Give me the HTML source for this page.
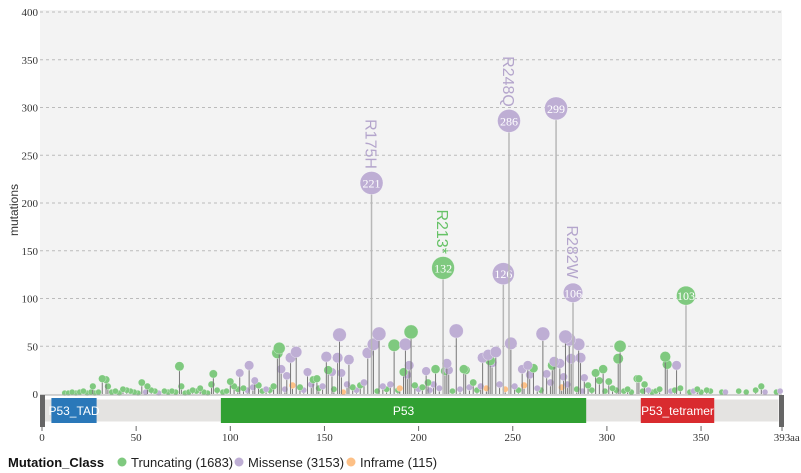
<!DOCTYPE html>
<html><head><meta charset="utf-8"><style>
body{margin:0;background:#fff;width:801px;height:473px;overflow:hidden;font-family:"Liberation Sans",sans-serif}
svg{display:block}
</style></head><body>
<svg id="chart" width="801" height="473">
<rect x="40" y="10" width="742" height="385" fill="#f3f3f3"/>
<g id="grid"></g>
<g id="yaxis"></g>
<text x="18" y="210" transform="rotate(-90 18 210)" text-anchor="middle" font-size="12" fill="#333">mutations</text>
<g id="marks"></g>
<line x1="40" y1="395" x2="782" y2="395" stroke="#aaa" stroke-width="1"/>
<rect x="44" y="399" width="735" height="23" fill="#e4e3e1" stroke="#fff"/>
<rect x="40" y="395" width="5" height="32" fill="#666"/>
<rect x="779" y="395" width="5" height="32" fill="#666"/>
<g id="domains"></g>
<g id="xaxis"></g>
<g>
<text x="8" y="467" font-size="13" font-weight="bold" fill="#111">Mutation_Class</text>
<g><circle cx="122" cy="462" r="4.5" fill="#7fc97f"/><text x="131" y="467" font-size="13" fill="#222">Truncating (1683)</text></g>
<g><circle cx="239" cy="462" r="4.5" fill="#beaed4"/><text x="248" y="467" font-size="13" fill="#222">Missense (3153)</text></g>
<g><circle cx="351" cy="462" r="4.5" fill="#fdc086"/><text x="360" y="467" font-size="13" fill="#222">Inframe (115)</text></g>
</g>
</svg>
<script>
const positions=[12,14,16,18,20,22,24,26,28,30,37,39,41,43,47,49,51,55,58,60,62,65,67,69,71,76,78,82,86,88,93,96,98,102,104,107,109,112,115,117,119,121,123,129,133,137,139,143,147,149,155,162,165,167,169,171,178,181,183,185,189,198,200,202,206,211,218,222,227,231,233,236,243,246,251,253,256,263,265,276,279,284,287,292,299,303,305,309,311,313,319,322,324,326,328,334,336,339,344,346,348,350,353,355,
175,248,273,213,245,282,342,
220,266,278,280,285,249,307,306,281,286,241,237,234,239,238,272,275,271,261,258,255,215,216,214,204,209,224,225,294,298,268,277,288,259,301,316,270,205,208,229,
158,179,196,187,193,176,173,126,125,135,132,151,157,163,110,105,91,127,130,141,152,154,159,195,192,194,113,100,146,144,160,190,
331,332,337,317,320,296,290,32,34,35,27,73,74,53,56,45,90,84,80,361,363,370,374,379,382,384,390,392];
const counts=[1,1,2,1,2,3,1,2,1,2,2,3,1,5,3,2,1,2,4,3,1,3,2,3,2,1,2,3,2,1,4,2,3,8,5,6,4,7,9,3,5,4,8,5,9,7,4,10,6,8,5,10,7,4,9,12,3,8,5,10,4,9,5,7,4,6,3,5,7,4,8,6,10,5,8,4,9,6,4,7,10,5,3,4,3,6,4,3,5,2,3,4,2,3,5,3,4,6,2,3,5,2,4,3,
221,286,299,132,126,106,103,
66,63,60,57,52,53,50,37,37,38,44,41,38,33,35,34,32,30,27,30,26,32,25,24,24,26,26,25,22,26,21,18,17,20,13,16,12,12,10,12,
62,63,65,51,52,52,43,48,43,44,38,39,38,36,30,22,21,26,19,23,25,23,22,30,23,20,14,13,16,15,2,6,
39,31,30,16,10,14,9,16,15,8,8,29,8,12,8,4,10,6,4,2,2,3,2,4,8,2,2,3];
const classes=[
"T","T","T","T","T","T","T","T","T","T","T","T","T","T","T","T","T","M","T","T","M","T","T","T","T","T","T","T","T","T","T","T","T","T","T","T","M","M","T","T","M","T","T","M","I","T","M","M","T","M","T","M","T","M","T","M","T","M","T","M","T","T","M","T","M","M","T","M","M","T","M","I","M","I","M","T","I","M","T","I","M","T","M","T","T","T","T","T","T","T","T","M","T","T","T","M","T","T","T","M","T","T","T","T",
"M","M","M","T","M","M","T",
"M","M","M","M","M","M","T","T","M","M","M","M","M","M","T","M","M","T","T","M","M","M","M","T","M","T","T","T","T","T","M","M","M","M","T","T","M","T","M","T",
"M","M","T","T","M","M","M","T","T","M","M","M","M","M","M","M","T","M","M","M","T","M","M","M","T","M","M","T","T","T","I","I",
"T","T","M","T","T","T","T","T","T","T","T","T","T","T","T","T","T","T","T","T","M","T","T","T","T","M","T","M"];
const labelNames=["R175H","R248Q","R213*","R282W"];
const labelPos=[175,248,213,282];
const labelCounts=[221,286,132,106];
const labelClasses=["M","M","T","M"];
const yTicks=[0,50,100,150,200,250,300,350,400];
const xTicks=[0,50,100,150,200,250,300,350,393];
const domainNames=["P53_TAD","P53","P53_tetramer"];
const domainStart=[5,95,318];
const domainEnd=[29,289,357];
const domainColors=["#2a78b9","#31a032","#d92b2f"];

const NS="http://www.w3.org/2000/svg";
const X=a=>42+a*1.883, Y=v=>394-v*0.955;
const col={T:"#7fc97f",M:"#beaed4",I:"#fdc086"};
const lab={T:"#66c266",M:"#b4a5cc",I:"#f0a860"};
function mk(t,at,p){const e=document.createElementNS(NS,t);for(const k in at)e.setAttribute(k,at[k]);(p||document.getElementById("marks")).appendChild(e);return e;}
const grid=document.getElementById("grid"),ya=document.getElementById("yaxis");
yTicks.forEach(v=>{
 if(v>0){const g=mk("line",{x1:40,x2:782,y1:Y(v),y2:Y(v),stroke:"#bbb","stroke-dasharray":"3,3"},grid);
 
 }
 const t=mk("text",{x:38,y:Y(v)+4,"text-anchor":"end","font-size":11,"font-family":"Liberation Serif,serif",fill:"#333"},ya);
 t.textContent=v;
 
 
});
const xa=document.getElementById("xaxis");
xTicks.forEach(a=>{
 const l=mk("line",{x1:X(a),x2:X(a),y1:426,y2:431,stroke:"#666"},xa);
 
 
 const t=mk("text",{x:X(a),y:441,"text-anchor":"middle","font-size":11,"font-family":"Liberation Serif,serif",fill:"#333"},xa);
 t.textContent=a;
 
 
});
const aa=mk("text",{x:X(393)+8,y:441,"font-size":11,"font-family":"Liberation Serif,serif",fill:"#333"},xa);aa.textContent="aa";


const dg=document.getElementById("domains");
domainNames.forEach((n,i)=>{
 const r=mk("rect",{x:X(domainStart[i]),y:398,width:X(domainEnd[i])-X(domainStart[i]),height:25,fill:domainColors[i]},dg);
 
 
 const t=mk("text",{x:(X(domainStart[i])+X(domainEnd[i]))/2,y:415,"text-anchor":"middle","font-size":12,fill:"#fff"},dg);
 t.textContent=n;
 
 
});
const idx=positions.map((p,i)=>i).sort((a,b)=>counts[a]-counts[b]);
idx.forEach(i=>{
 const c=counts[i],cl=classes[i]||"T",x=X(positions[i]),y=Y(c);
 const r=Math.min(11.5,2.8+c*0.065);
 const s=mk("line",{x1:x,x2:x,y1:394,y2:y,stroke:c>90?"#b8b8b8":"#777","stroke-width":c>90?1.5:1});
 
 
 const dot=mk("circle",{cx:x,cy:y,r:r,fill:col[cl],stroke:"#fff","stroke-width":0.3});
 
 
 if(c>=100){const t=mk("text",{x:x,y:y+4.5,"text-anchor":"middle","font-size":12,"font-family":"Liberation Serif,serif",fill:"#fff"});
 t.textContent=c;
 
 }
});
labelNames.forEach((n,i)=>{
 const x=X(labelPos[i])-6,y=Y(labelCounts[i])-14;
 const t=mk("text",{x:x,y:y,transform:`rotate(90 ${x} ${y})`,"text-anchor":"end","font-size":16,fill:lab[labelClasses[i]]});
 t.textContent=n;
 
 
});
</script>
</body></html>
